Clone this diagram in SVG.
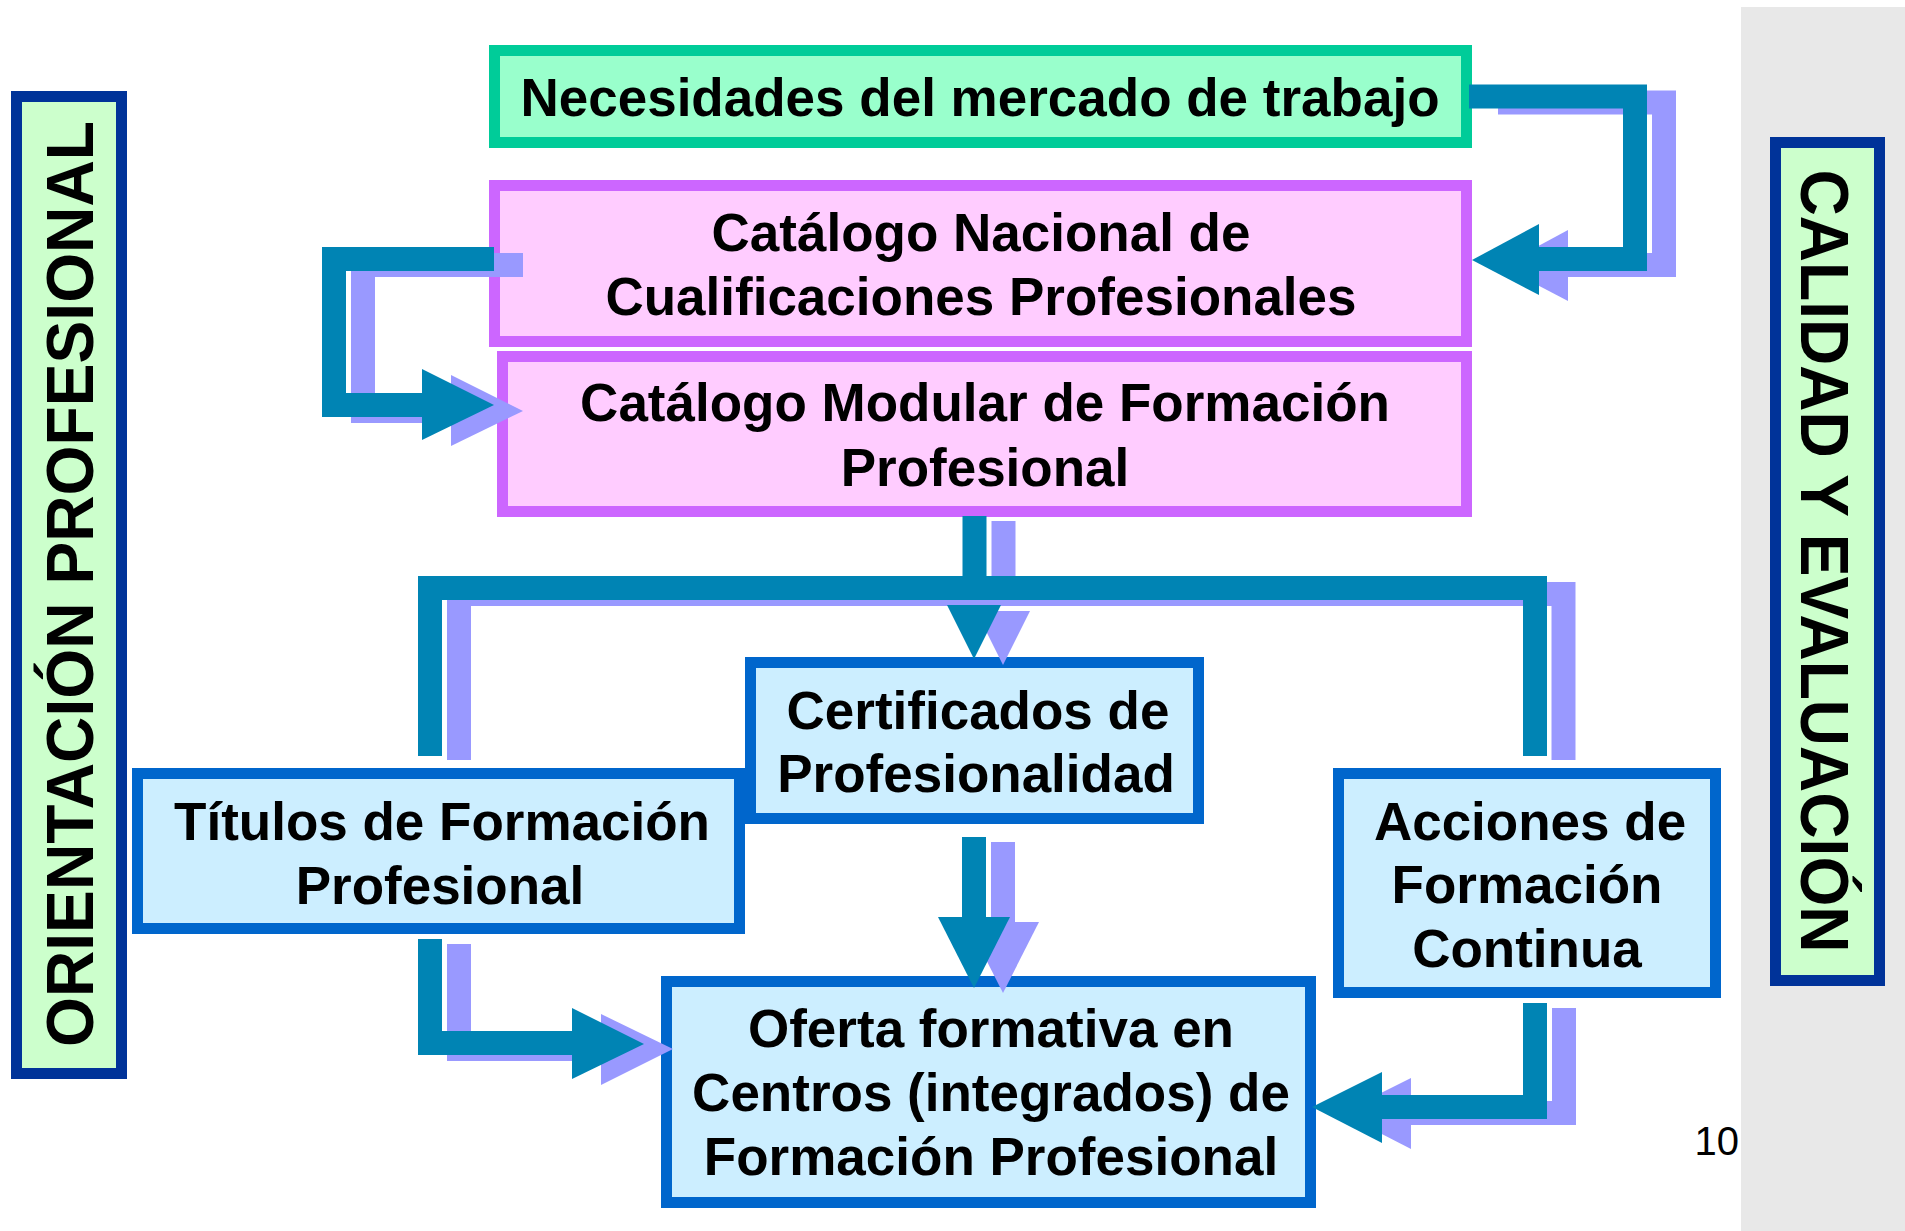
<svg xmlns="http://www.w3.org/2000/svg" width="1905" height="1231" viewBox="0 0 1905 1231">
<style>
.t{font-family:"Liberation Sans",Arial,sans-serif;font-weight:bold;font-size:53px;fill:#000;text-anchor:middle}
.side{font-family:"Liberation Sans",Arial,sans-serif;font-weight:bold;fill:#000;text-anchor:middle}
.green{fill:#99ffcc;stroke:#00cc99;stroke-width:11}
.pink{fill:#ffccff;stroke:#cc66ff;stroke-width:11}
.blue{fill:#cceeff;stroke:#0066cc;stroke-width:11}
.vbox{fill:#ccffcc;stroke:#003399;stroke-width:11}
.tl{fill:none;stroke:#0084b4;stroke-width:24;stroke-linejoin:miter}
.lv{fill:none;stroke:#9999ff;stroke-width:24;stroke-linejoin:miter}
.tlh{fill:#0084b4}
.lvh{fill:#9999ff}
</style>
<rect x="0" y="0" width="1905" height="1231" fill="#ffffff"/>
<rect x="1741" y="7" width="164" height="1224" fill="#e8e8e8"/>

<g id="orientacion">
<rect class="vbox" x="16.5" y="96.5" width="105" height="977"/>
<text class="side" font-size="66" transform="translate(93,584) rotate(-90)" textLength="926" lengthAdjust="spacingAndGlyphs">ORIENTACIÓN PROFESIONAL</text>
</g>
<g id="calidad">
<rect class="vbox" x="1775.5" y="142.5" width="104" height="838"/>
<text class="side" font-size="68" transform="translate(1801,561) rotate(90)" textLength="783" lengthAdjust="spacingAndGlyphs">CALIDAD Y EVALUACIÓN</text>
</g>

<g id="necesidades">
<rect class="green" x="494.5" y="50.5" width="972" height="92"/>
<text class="t" x="980" y="116">Necesidades del mercado de trabajo</text>
</g>
<g id="catalogo-nacional">
<rect class="pink" x="494.5" y="185.5" width="972" height="156"/>
<text class="t" x="981" y="251">Catálogo Nacional de</text>
<text class="t" x="981" y="315">Cualificaciones Profesionales</text>
</g>
<g id="catalogo-modular">
<rect class="pink" x="502.5" y="356.5" width="964" height="155"/>
<text class="t" x="985" y="421">Catálogo Modular de Formación</text>
<text class="t" x="985" y="486">Profesional</text>
</g>
<g id="titulos">
<rect class="blue" x="137.5" y="773.5" width="602" height="155"/>
<text class="t" x="442" y="840">Títulos de Formación</text>
<text class="t" x="440" y="904">Profesional</text>
</g>
<g id="certificados">
<rect class="blue" x="750.5" y="662.5" width="448" height="156"/>
<text class="t" x="978" y="729">Certificados de</text>
<text class="t" x="976" y="792">Profesionalidad</text>
</g>
<g id="acciones">
<rect class="blue" x="1338.5" y="773.5" width="377" height="219"/>
<text class="t" x="1530" y="840">Acciones de</text>
<text class="t" x="1527" y="903">Formación</text>
<text class="t" x="1527" y="967">Continua</text>
</g>
<g id="oferta">
<rect class="blue" x="666.5" y="981.5" width="644" height="221"/>
<text class="t" x="991" y="1047">Oferta formativa en</text>
<text class="t" x="991" y="1111">Centros (integrados) de</text>
<text class="t" x="991" y="1175">Formación Profesional</text>
</g>

<g id="connectors">
<!-- shadows -->
<path class="lv" d="M1498,102.5 H1664 V265 H1568"/>
<polygon class="lvh" points="1568,230 1568,301 1501,266"/>
<path class="lv" d="M523,265 H363 V411 H454"/>
<polygon class="lvh" points="451,375 451,446 523,411"/>
<path class="lv" d="M1003.5,521 V594"/>
<path class="lv" d="M459,760 V594 H1563.5 V760"/>
<polygon class="lvh" points="976,611 1030,611 1003,665"/>
<path class="lv" d="M459,944 V1049 H604"/>
<polygon class="lvh" points="601,1014 601,1085 673,1049"/>
<path class="lv" d="M1003,842 V925"/>
<polygon class="lvh" points="967,922 1039,922 1003,993"/>
<path class="lv" d="M1564,1008 V1113 H1409"/>
<polygon class="lvh" points="1411,1078 1411,1149 1341,1113"/>
<!-- main -->
<path class="tl" d="M1469,96.5 H1635 V259 H1539"/>
<polygon class="tlh" points="1539,224 1539,295 1472,260"/>
<path class="tl" d="M494,259 H334 V405 H425"/>
<polygon class="tlh" points="422,369 422,440 494,405"/>
<path class="tl" d="M974.5,516 V588"/>
<path class="tl" d="M430,756 V588 H1535 V756"/>
<polygon class="tlh" points="947,605 1001,605 974,659"/>
<path class="tl" d="M430,939 V1043 H575"/>
<polygon class="tlh" points="572,1008 572,1079 644,1044"/>
<path class="tl" d="M974,837 V920"/>
<polygon class="tlh" points="938,917 1010,917 974,988"/>
<path class="tl" d="M1535,1003 V1107 H1380"/>
<polygon class="tlh" points="1382,1072 1382,1143 1312,1107"/>
</g>

<text x="1739" y="1155" font-family="Liberation Sans, Arial, sans-serif" font-size="40" text-anchor="end" fill="#000">10</text>
</svg>
